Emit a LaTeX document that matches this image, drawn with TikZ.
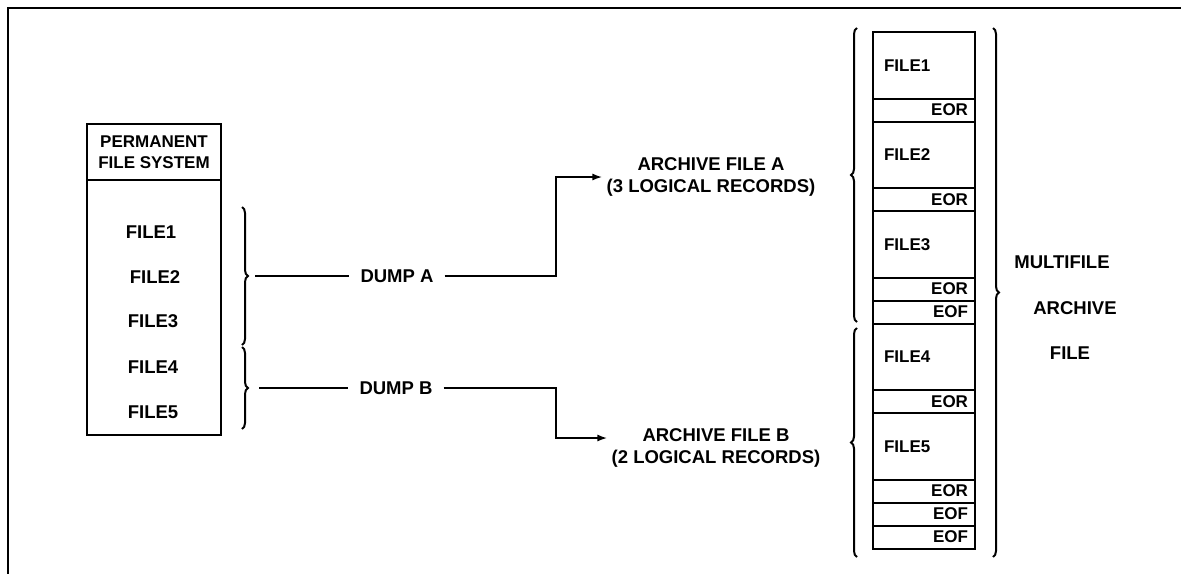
\documentclass[tikz,border=0pt]{standalone}
\usepackage{fontspec}
\setmainfont{Liberation Sans}
\usetikzlibrary{arrows.meta, positioning, decorations.pathreplacing}
\tikzset{
  lbl/.style={font=\bfseries\fontsize{18.5}{22}\selectfont, inner sep=0pt, align=center},
  hdrbox/.style={draw, line width=2pt, outer sep=0pt, minimum width=134pt, minimum height=56pt,
    inner sep=0pt, align=center, font=\bfseries\fontsize{17}{21}\selectfont},
  bodybox/.style={draw, line width=2pt, outer sep=0pt, minimum width=134pt, minimum height=255pt},
  filecell/.style={draw, line width=2pt, outer sep=0pt, minimum height=66.5pt, text width=80pt,
    inner xsep=11pt, inner ysep=0pt, align=left, font=\bfseries\fontsize{17}{20}\selectfont},
  markcell/.style={draw, line width=2pt, outer sep=0pt, minimum height=23pt, text width=88pt,
    inner xsep=7pt, inner ysep=0pt, align=right, font=\bfseries\fontsize{17}{20}\selectfont},
  dumplbl/.style={lbl, inner xsep=11pt},
  arclbl/.style={lbl, inner xsep=4pt},
  grp/.style={decorate, decoration={brace, amplitude=6pt}, line width=2pt},
  wire/.style={line width=2pt},
  flow/.style={-{Latex[length=10pt, width=7pt]}, line width=2pt}
}
\begin{document}
\begin{tikzpicture}[x=1pt, y=-1pt]
\useasboundingbox (0,0) rectangle (1181,574);
% scan frame (top and left edges only)
\draw[line width=2pt] (1181,8) -| (8,574);

% permanent file system
\node[hdrbox] (hdr) at (154,152) {PERMANENT\\FILE SYSTEM};
\node[bodybox, below=0pt of hdr] (pfs) {};
\node[lbl] (p1) at (151,232) {FILE1};
\node[lbl] (p2) at (155,277) {FILE2};
\node[lbl] (p3) at (153,321) {FILE3};
\node[lbl] (p4) at (153,367) {FILE4};
\node[lbl] (p5) at (153,412) {FILE5};

% dump groups
\draw[grp] (242,207) -- (242,345);
\draw[grp] (242,347) -- (242,429);
\coordinate (tipA) at (255,276);
\coordinate (tipB) at (259,388);
\node[dumplbl] (dumpA) at (397,276) {DUMP A};
\node[dumplbl] (dumpB) at (396,388) {DUMP B};
\node[arclbl] (arcA) at (711,176.5) {ARCHIVE FILE A\\(3 LOGICAL RECORDS)};
\node[arclbl] (arcB) at (716,447.5) {ARCHIVE FILE B\\(2 LOGICAL RECORDS)};
\coordinate (jogA) at (556,177);
\coordinate (jogB) at (556,438);
\draw[wire] (tipA) -- (dumpA);
\draw[wire] (tipB) -- (dumpB);
\draw[flow] (dumpA.east) -| (jogA) -- (jogA -| arcA.west);
\draw[flow] (dumpB.east) -| (jogB) -- (jogB -| arcB.west);

% multifile archive file
\node[filecell] (c1) at (924,65.25) {FILE1};
\node[markcell, below=0pt of c1] (e1) {EOR};
\node[filecell, below=0pt of e1] (c2) {FILE2};
\node[markcell, below=0pt of c2] (e2) {EOR};
\node[filecell, below=0pt of e2] (c3) {FILE3};
\node[markcell, below=0pt of c3] (e3) {EOR};
\node[markcell, below=0pt of e3] (f1) {EOF};
\node[filecell, below=0pt of f1] (c4) {FILE4};
\node[markcell, below=0pt of c4] (e4) {EOR};
\node[filecell, below=0pt of e4] (c5) {FILE5};
\node[markcell, below=0pt of c5] (e5) {EOR};
\node[markcell, below=0pt of e5] (f2) {EOF};
\node[markcell, below=0pt of f2] (f3) {EOF};

\draw[grp] (857,322) -- (857,28);
\draw[grp] (857,557) -- (857,328);
\draw[grp] (993,28) -- (993,557);
\node[lbl] (mf1) at (1062,262) {MULTIFILE};
\node[lbl] (mf2) at (1075,308) {ARCHIVE};
\node[lbl] (mf3) at (1070,353) {FILE};
\end{tikzpicture}
\end{document}
